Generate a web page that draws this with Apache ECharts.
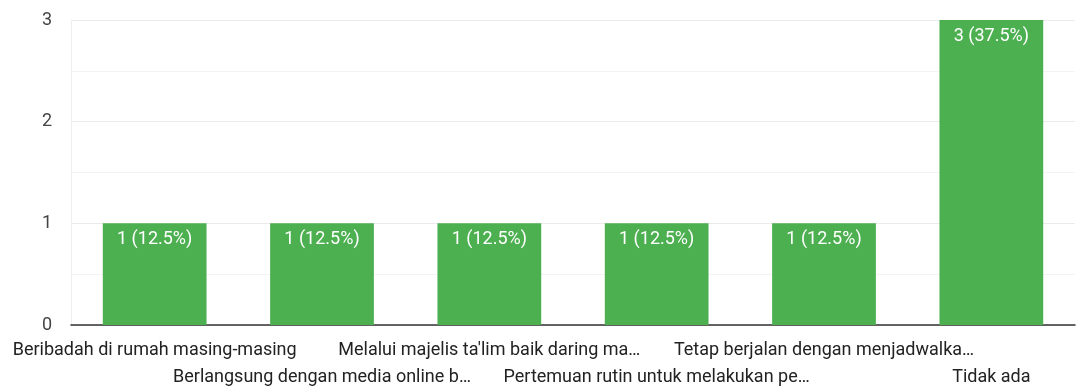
<!DOCTYPE html>
<html>
<head>
<meta charset="utf-8">
<script src="https://cdn.jsdelivr.net/npm/echarts@6/dist/echarts.min.js"></script>
<style>
  html, body { margin: 0; padding: 0; background: #fff; }
  #chart { width: 1076px; height: 389px; }
</style>
</head>
<body>
<div id="chart"></div>
<script>
// Answer categories (long ones shortened with an ellipsis)
const categories = [
  'Beribadah di rumah masing-masing',
  'Berlangsung dengan media online b\u2026',
  "Melalui majelis ta'lim baik daring ma\u2026",
  'Pertemuan rutin untuk melakukan pe\u2026',
  'Tetap berjalan dengan menjadwalka\u2026',
  'Tidak ada'
];
// Number of responses per answer
const counts = [1, 1, 1, 1, 1, 3];
// Share of all responses, in percent
const percents = [12.5, 12.5, 12.5, 12.5, 12.5, 37.5];
const yTicks = [0, 1, 2, 3];

const chart = echarts.init(document.getElementById('chart'));
chart.setOption({
  animation: false,
  grid: { left: 71, right: 1, top: 20, bottom: 64, outerBoundsMode: 'none', containLabel: false },
  xAxis: {
    type: 'category',
    data: categories,
    axisLine: { lineStyle: { color: '#333', width: 1.5 } },
    axisTick: { show: false },
    axisLabel: {
      interval: 0,
      margin: 12,
      fontFamily: 'Roboto',
      fontSize: 18,
      color: '#222',
      lineHeight: 27,
      formatter: (v, i) => (i % 2 ? '\n' + v : v)
    }
  },
  yAxis: {
    type: 'value',
    min: yTicks[0],
    max: yTicks[yTicks.length - 1],
    interval: 1,
    axisLine: { show: true, lineStyle: { color: '#eee', width: 1 } },
    axisTick: { show: false },
    axisLabel: { margin: 19, fontFamily: 'Roboto', fontSize: 18, color: '#444' },
    splitLine: { lineStyle: { color: '#eaeaea' } },
    minorTick: { show: false, splitNumber: 2 },
    minorSplitLine: { show: true, lineStyle: { color: '#f3f3f3' } }
  },
  series: [{
    type: 'bar',
    data: counts,
    barWidth: '62%',
    itemStyle: { color: '#4caf50' },
    label: {
      show: true,
      position: 'insideTop',
      distance: 7,
      fontFamily: 'Roboto',
      fontSize: 18,
      color: '#fff',
      formatter: p => p.value + ' (' + percents[p.dataIndex] + '%)'
    }
  }]
});
</script>
</body>
</html>
